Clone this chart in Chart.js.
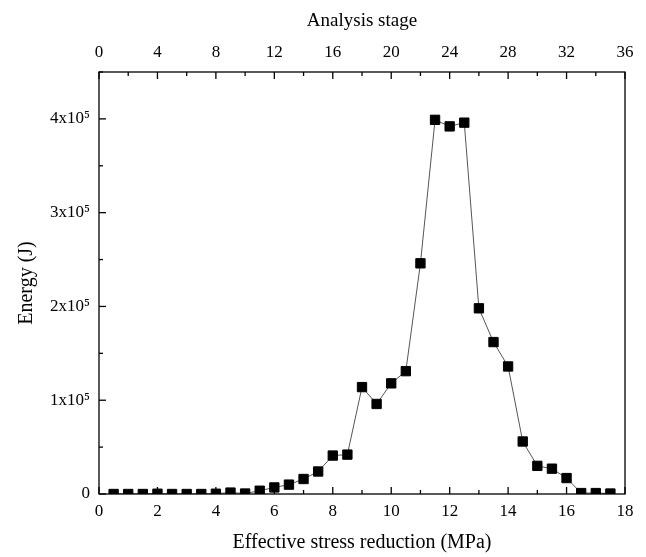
<!DOCTYPE html>
<html>
<head>
<meta charset="utf-8">
<title>Energía vs reducción de esfuerzo</title>
<script src="https://cdn.jsdelivr.net/npm/chart.js@4.4.1/dist/chart.umd.min.js"></script>
<style>
  html, body { margin: 0; padding: 0; background: #fff; }
  canvas { display: block; }
</style>
</head>
<body>
<canvas id="grafica" width="646" height="557"></canvas>
<script>
// Datos
const reduccion = [0.5, 1, 1.5, 2, 2.5, 3, 3.5, 4, 4.5, 5, 5.5, 6, 6.5, 7, 7.5, 8, 8.5, 9,
    9.5, 10, 10.5, 11, 11.5, 12, 12.5, 13, 13.5, 14, 14.5, 15, 15.5, 16, 16.5, 17, 17.5];
const energia = [0, 0, 0, 300, 0, 0, 0, 300, 1500, 500, 3500, 7000, 10000, 16000, 24000,
    41000, 42000, 114000, 96000, 118000, 131000, 246000, 399000, 392000, 396000,
    198000, 162000, 136000, 56000, 30000, 27000, 17000, 1000, 1000, 500];

const ticksReduccion = [0, 2, 4, 6, 8, 10, 12, 14, 16, 18];
const ticksEtapa = [0, 4, 8, 12, 16, 20, 24, 28, 32, 36];
const ticksEnergia = [0, 100000, 200000, 300000, 400000];

const fuente = "'Liberation Serif', 'Times New Roman', serif";

// Ticks hacia adentro y marco del grafico
const ejesPlugin = {
    id: 'ejes',
    afterDraw(chart) {
        const { ctx, chartArea: a, scales } = chart;
        ctx.save();
        ctx.strokeStyle = '#000';
        ctx.lineWidth = 1.3;
        ctx.strokeRect(a.left, a.top, a.right - a.left, a.bottom - a.top);

        const linea = (x1, y1, x2, y2) => {
            ctx.beginPath();
            ctx.moveTo(x1, y1);
            ctx.lineTo(x2, y2);
            ctx.stroke();
        };

        // eje inferior
        ticksReduccion.forEach((v, i) => {
            const x = scales.x.getPixelForValue(v);
            linea(x, a.bottom, x, a.bottom - 7);
            if (i < ticksReduccion.length - 1) {
                const xm = scales.x.getPixelForValue((v + ticksReduccion[i + 1]) / 2);
                linea(xm, a.bottom, xm, a.bottom - 4);
            }
        });

        // eje superior
        ticksEtapa.forEach((v, i) => {
            const x = scales.x2.getPixelForValue(v);
            linea(x, a.top, x, a.top + 7);
            if (i < ticksEtapa.length - 1) {
                const xm = scales.x2.getPixelForValue((v + ticksEtapa[i + 1]) / 2);
                linea(xm, a.top, xm, a.top + 4);
            }
        });

        // eje izquierdo
        ticksEnergia.forEach((v, i) => {
            const y = scales.y.getPixelForValue(v);
            linea(a.left, y, a.left + 7, y);
            const sig = i < ticksEnergia.length - 1 ? ticksEnergia[i + 1] : v + 100000;
            const ym = scales.y.getPixelForValue((v + sig) / 2);
            linea(a.left, ym, a.left + 4, ym);
        });
        ctx.restore();
    }
};

const etiquetaEnergia = (v) => {
    if (v === 0) return '0';
    return (v / 100000) + 'x10\u2075';
};

window.graficaEnergia = new Chart(document.getElementById('grafica').getContext('2d'), {
    type: 'line',
    data: {
        datasets: [{
            label: 'Energy',
            data: reduccion.map((r, i) => ({ x: r, y: energia[i] })),
            xAxisID: 'x',
            yAxisID: 'y',
            borderColor: '#555',
            borderWidth: 1,
            tension: 0,
            pointStyle: 'rect',
            pointRadius: 6.6,
            pointHoverRadius: 6.6,
            pointBackgroundColor: '#000',
            pointBorderColor: '#000',
            pointBorderWidth: 1
        }]
    },
    options: {
        responsive: false,
        animation: false,
        devicePixelRatio: 1,
        layout: { padding: { right: 21, left: 0, top: 0, bottom: 0 } },
        plugins: {
            legend: { display: false },
            tooltip: { enabled: false }
        },
        scales: {
            x: {
                type: 'linear',
                position: 'bottom',
                min: 0,
                max: 18,
                afterBuildTicks: s => { s.ticks = ticksReduccion.map(v => ({ value: v })); },
                afterFit: s => { s.height = 63; },
                grid: { display: false, drawTicks: false },
                border: { display: false },
                ticks: {
                    padding: 7,
                    maxRotation: 0,
                    color: '#000',
                    font: { family: fuente, size: 17 }
                },
                title: {
                    display: true,
                    text: 'Effective stress reduction (MPa)',
                    color: '#000',
                    padding: 2,
                    font: { family: fuente, size: 20 }
                }
            },
            x2: {
                type: 'linear',
                position: 'top',
                min: 0,
                max: 36,
                afterBuildTicks: s => { s.ticks = ticksEtapa.map(v => ({ value: v })); },
                afterFit: s => { s.height = 72; },
                grid: { display: false, drawTicks: false },
                border: { display: false },
                ticks: {
                    padding: 9,
                    maxRotation: 0,
                    color: '#000',
                    font: { family: fuente, size: 17 }
                },
                title: {
                    display: true,
                    text: 'Analysis stage',
                    color: '#000',
                    padding: 10,
                    font: { family: fuente, size: 19 }
                }
            },
            y: {
                type: 'linear',
                position: 'left',
                min: 0,
                max: 450000,
                afterBuildTicks: s => { s.ticks = ticksEnergia.map(v => ({ value: v })); },
                afterFit: s => { s.width = 99; },
                grid: { display: false, drawTicks: false },
                border: { display: false },
                ticks: {
                    padding: 9,
                    color: '#000',
                    font: { family: fuente, size: 17 },
                    callback: etiquetaEnergia
                },
                title: {
                    display: true,
                    text: 'Energy (J)',
                    color: '#000',
                    padding: 15,
                    font: { family: fuente, size: 20 }
                }
            }
        }
    },
    plugins: [ejesPlugin]
});
</script>
</body>
</html>
